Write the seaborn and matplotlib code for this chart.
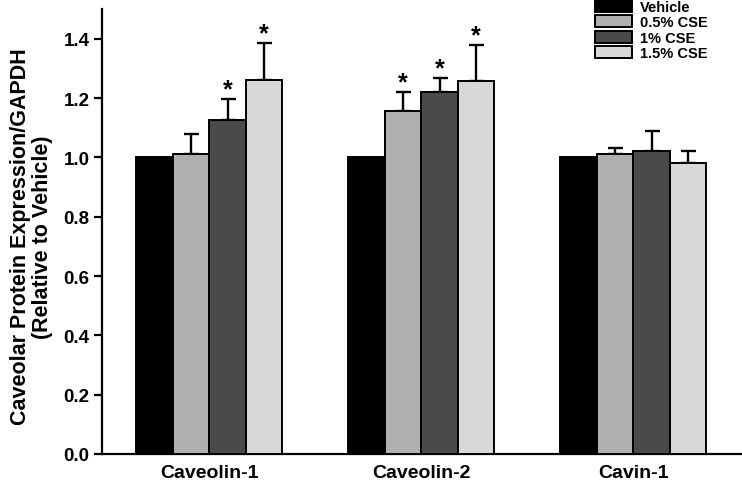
import seaborn as sns
import matplotlib.pyplot as plt
import pandas as pd

sns.set_theme(style="ticks", context="paper")
plt.rcParams['font.family'] = ['Liberation Sans', 'DejaVu Sans']
plt.rcParams['font.weight'] = 'bold'
plt.rcParams.update({"text.color": "black", "axes.labelcolor": "black",
                     "xtick.color": "black", "ytick.color": "black"})

proteins = ["Caveolin-1", "Caveolin-2", "Cavin-1"]
treatments = ["Vehicle", "0.5% CSE", "1% CSE", "1.5% CSE"]

# mean (relative to vehicle), per protein in treatment order
means = {
    "Caveolin-1": [1.00, 1.01, 1.127, 1.259],
    "Caveolin-2": [1.00, 1.157, 1.220, 1.256],
    "Cavin-1": [1.00, 1.012, 1.020, 0.980],
}
errors = {
    "Caveolin-1": [0.0, 0.068, 0.068, 0.125],
    "Caveolin-2": [0.0, 0.062, 0.048, 0.121],
    "Cavin-1": [0.0, 0.020, 0.068, 0.042],
}
signif = {
    "Caveolin-1": [False, False, True, True],
    "Caveolin-2": [False, True, True, True],
    "Cavin-1": [False, False, False, False],
}

colors = {"Vehicle": "#000000", "0.5% CSE": "#b0b0b0",
          "1% CSE": "#4a4a4a", "1.5% CSE": "#d8d8d8"}

rows = []
for p in proteins:
    for i, t in enumerate(treatments):
        rows.append({"protein": p, "treatment": t, "value": means[p][i],
                     "err": errors[p][i], "sig": signif[p][i]})
df = pd.DataFrame(rows)

fig = plt.figure(figsize=(7.42, 4.85), dpi=100)
ax = fig.add_axes([102 / 742, 1 - 455 / 485, 1 - 102 / 742, 445 / 485])

sns.barplot(data=df, x="protein", y="value", hue="treatment",
            order=proteins, hue_order=treatments, palette=colors,
            width=0.69, errorbar=None, edgecolor="black", linewidth=1.4,
            saturation=1, ax=ax, zorder=3)

# error bars (upper only) + significance stars
for cont, t in zip(ax.containers, treatments):
    sub = df[df.treatment == t].set_index("protein").loc[proteins]
    for bar, (p, r) in zip(cont, sub.iterrows()):
        xc = bar.get_x() + bar.get_width() / 2
        h = bar.get_height()
        if r.err > 0:
            ax.errorbar(xc, h, yerr=[[0], [r.err]], color="black",
                        elinewidth=1.7, capsize=5.4, capthick=1.7, zorder=2)
        if r.sig:
            ax.annotate("*", (xc, h + r.err), xytext=(0, 2),
                        textcoords="offset points", ha="center", va="baseline",
                        fontsize=18, fontweight="bold")

ax.set_xlim(-0.506, 2.513)
ax.set_ylim(0, 1.5)
ax.set_yticks([0.0, 0.2, 0.4, 0.6, 0.8, 1.0, 1.2, 1.4])
ax.set_yticklabels([f"{v:.1f}" for v in ax.get_yticks()])
ax.tick_params(axis="y", length=6, width=1.6, labelsize=13.5, pad=3)
ax.tick_params(axis="x", length=0, labelsize=14, pad=7)
for lab in ax.get_xticklabels() + ax.get_yticklabels():
    lab.set_fontweight("bold")
ax.set_xlabel("")
ax.set_ylabel("Caveolar Protein Expression/GAPDH\n(Relative to Vehicle)",
              fontsize=15.5, fontweight="bold", linespacing=1.05)
ax.yaxis.set_label_coords(-0.077, 0.49)
sns.despine(ax=ax)
for s in ["left", "bottom"]:
    ax.spines[s].set_linewidth(1.6)
    ax.spines[s].set_color("black")

handles, labels = ax.get_legend_handles_labels()
ax.legend(handles, labels, loc="upper left",
          bbox_to_anchor=(595 / 742, 1 - 1 / 485), bbox_transform=fig.transFigure,
          frameon=False, borderpad=0, borderaxespad=0,
          handlelength=2.55, handleheight=0.9, labelspacing=0.08,
          handletextpad=0.55, prop={"size": 10.5, "weight": "bold"})

fig.savefig("out.png", dpi=100)
